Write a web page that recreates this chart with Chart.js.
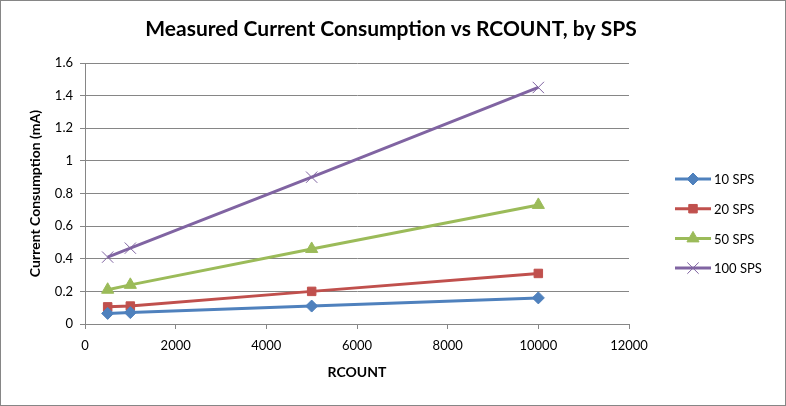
<!DOCTYPE html>
<html>
<head>
<meta charset="utf-8">
<script src="https://cdn.jsdelivr.net/npm/chart.js@4.4.0/dist/chart.umd.min.js"></script>
<style>
  html, body { margin: 0; padding: 0; background: #fff; }
  #wrap { width: 786px; height: 406px; }
</style>
</head>
<body>
<div id="wrap"><canvas id="chart" width="786" height="406"></canvas></div>
<script>
// data
const rcount = [500, 1000, 5000, 10000];
const sps10 = [0.065, 0.07, 0.11, 0.16];
const sps20 = [0.105, 0.11, 0.2, 0.31];
const sps50 = [0.21, 0.24, 0.46, 0.73];
const sps100 = [0.41, 0.465, 0.9, 1.45];
const seriesNames = ["10 SPS", "20 SPS", "50 SPS", "100 SPS"];
const chartTitle = "Measured Current Consumption vs RCOUNT, by SPS";

const FONT = "Lato, 'Open Sans', sans-serif";
const gridGray = "#868686";

function pts(ys) {
  return rcount.map((x, i) => ({ x: x, y: ys[i] }));
}

function series(label, ys, color, style, radius, bw) {
  return {
    label: label,
    data: pts(ys),
    showLine: true,
    borderColor: color,
    backgroundColor: color,
    borderWidth: 3,
    pointStyle: style,
    pointRadius: radius,
    pointHoverRadius: radius,
    pointBorderWidth: bw,
    pointBorderColor: color,
    pointBackgroundColor: color,
  };
}

// white background, outer frame and the title (centred on the whole picture)
const frame = {
  id: "frame",
  beforeDraw(chart) {
    const ctx = chart.ctx;
    ctx.save();
    ctx.fillStyle = "#fff";
    ctx.fillRect(0, 0, chart.width, chart.height);
    ctx.strokeStyle = gridGray;
    ctx.lineWidth = 1;
    ctx.strokeRect(0.5, 0.5, chart.width - 1, chart.height - 1);
    ctx.fillStyle = "#000";
    ctx.font = "bold 21px " + FONT;
    ctx.textAlign = "center";
    ctx.textBaseline = "middle";
    ctx.fillText(chartTitle, 391, 29);
    ctx.restore();
  },
};

// excel style legend: short line with marker in the middle
const sideLegend = {
  id: "sideLegend",
  afterDraw(chart) {
    const ctx = chart.ctx;
    const x0 = 675, x1 = 711, top = 179, gap = 29.7;
    ctx.save();
    chart.data.datasets.forEach((ds, i) => {
      const y = top + i * gap;
      ctx.strokeStyle = ds.borderColor;
      ctx.lineWidth = 3;
      ctx.beginPath();
      ctx.moveTo(x0, y);
      ctx.lineTo(x1, y);
      ctx.stroke();
      ctx.fillStyle = ds.pointBackgroundColor;
      ctx.strokeStyle = ds.pointBorderColor;
      ctx.lineWidth = ds.pointBorderWidth;
      Chart.helpers.drawPoint(ctx, {
        pointStyle: ds.pointStyle,
        radius: ds.pointRadius,
        rotation: 0,
        borderWidth: ds.pointBorderWidth,
      }, (x0 + x1) / 2, y);
      ctx.fillStyle = "#000";
      ctx.font = "13px " + FONT;
      ctx.textBaseline = "middle";
      ctx.textAlign = "left";
      ctx.fillText(ds.label, x1 + 3, y + 1);
    });
    ctx.restore();
  },
};

new Chart(document.getElementById("chart"), {
  type: "scatter",
  data: {
    datasets: [
      series(seriesNames[0], sps10, "#4F81BD", "rectRot", 6, 1),
      series(seriesNames[1], sps20, "#C0504D", "rect", 6, 1),
      series(seriesNames[2], sps50, "#9BBB59", "triangle", 7, 1),
      series(seriesNames[3], sps100, "#8064A2", "crossRot", 8, 1),
    ],
  },
  options: {
    responsive: false,
    animation: false,
    layout: { padding: { left: 0, right: 157, top: 63, bottom: 0 } },
    plugins: {
      legend: { display: false },
      tooltip: { enabled: false },
      title: { display: false },
    },
    scales: {
      x: {
        type: "linear",
        min: 0,
        max: 12000,
        ticks: {
          stepSize: 2000,
          color: "#000",
          font: { family: FONT, size: 13 },
          padding: 9,
          maxRotation: 0,
          callback: (v) => String(v),
        },
        grid: { drawOnChartArea: false, color: gridGray, tickLength: 5 },
        border: { color: gridGray },
        title: {
          display: true,
          text: "RCOUNT",
          color: "#000",
          font: { family: FONT, size: 14, weight: "bold" },
          padding: { top: 0, bottom: 25 },
        },
        afterFit(s) { s.height = 82; },
      },
      y: {
        min: 0,
        max: 1.6,
        ticks: {
          stepSize: 0.2,
          color: "#000",
          font: { family: FONT, size: 13 },
          padding: 7,
          callback: (v) => String(Math.round(v * 10) / 10),
        },
        grid: { color: gridGray, tickLength: 5 },
        border: { color: gridGray },
        title: {
          display: true,
          text: "Current Consumption (mA)",
          color: "#000",
          font: { family: FONT, size: 14, weight: "bold" },
          padding: { top: 27, bottom: 0 },
        },
        afterFit(s) { s.width = 85; },
      },
    },
  },
  plugins: [frame, sideLegend],
});
</script>
</body>
</html>
